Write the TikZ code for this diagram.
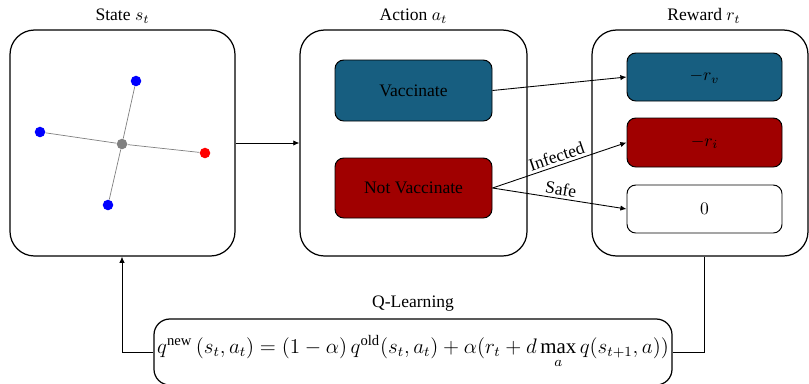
\documentclass[tikz,border=0pt]{standalone}
\usepackage{amsmath}
\usepackage{fontspec}
\setmainfont{Liberation Serif}
\usetikzlibrary{arrows.meta,positioning}
\newdimen\pxu
\pxu=0.57pt
\definecolor{vteal}{RGB}{23,94,128}
\definecolor{vred}{RGB}{160,0,0}
\tikzset{
  bigbox/.style={draw=black,line width=0.7pt,rounded corners=14pt,fill=white},
  smallbox/.style={draw=black,line width=0.55pt,rounded corners=5pt,align=center,font=\normalsize},
  vert/.style={circle,inner sep=0pt,minimum size=6pt},
  edge/.style={draw=gray,line width=0.4pt},
  conn/.style={line width=0.5pt,-{Latex[length=3.5pt,width=3pt]}},
  lbl/.style={font=\normalsize}
}
\begin{document}
\begin{tikzpicture}[x=0.57pt,y=-0.57pt]
\clip (0,0) rectangle (809,383);
\useasboundingbox (0,0) rectangle (809,383);
% big boxes
\node[bigbox,minimum width=225\pxu,minimum height=226\pxu] (state) at (122.5,143) {};
\node[bigbox,minimum width=227\pxu,minimum height=226\pxu] (action) at (413.5,143) {};
\node[bigbox,minimum width=216\pxu,minimum height=226\pxu] (reward) at (700,143) {};
\node[lbl] (stl) at (122.5,16) {State $s_t$};
\node[lbl] (acl) at (413.5,16) {Action $a_t$};
\node[lbl] (rwl) at (704,16) {Reward $r_t$};
% graph
\node[vert,fill=gray] (c) at (122,144) {};
\node[vert,fill=blue] (v1) at (136,81) {};
\node[vert,fill=blue] (v2) at (40,132) {};
\node[vert,fill=red] (v3) at (205,153) {};
\node[vert,fill=blue] (v4) at (108,205) {};
\draw[edge] (v1) -- (c) (v2) -- (c) (v3) -- (c) (v4) -- (c);
% actions
\node[smallbox,fill=vteal,minimum width=157\pxu,minimum height=61\pxu] (vac) at (413.5,90.5) {Vaccinate};
\node[smallbox,fill=vred,minimum width=157\pxu,minimum height=60\pxu] (nvac) at (413.5,188) {Not Vaccinate};
% rewards
\node[smallbox,fill=vteal,minimum width=155\pxu,minimum height=48\pxu] (rv) at (704.5,77) {$-r_v$};
\node[smallbox,fill=vred,minimum width=155\pxu,minimum height=49\pxu] (ri) at (704.5,142.5) {$-r_i$};
\node[smallbox,fill=white,minimum width=155\pxu,minimum height=48\pxu] (rz) at (704.5,209) {$0$};
% formula
\node[smallbox,line width=0.7pt,rounded corners=9pt,fill=white,inner xsep=1.5pt,minimum width=518\pxu,minimum height=66\pxu,font=\fontsize{11.9}{14}\selectfont] (form) at (413,352)
  {$q^{\text{new}}\,(s_t,a_t)=(1-\alpha)\,q^{\text{old}}(s_t,a_t)+\alpha(r_t+d\max\limits_a q(s_{t+1},a))$};
\node[lbl] (ql) at (413,304) {Q-Learning};
% connectors
\draw[conn] (state.east) -- (action.west);
\draw[conn] (vac.east) -- (rv.west);
\draw[conn] (nvac.east) -- node[lbl,sloped,above,inner sep=1.5pt] {Infected} (ri.west);
\draw[conn] (nvac.east) -- node[lbl,sloped,above,inner sep=1.5pt] {Safe} (rz.west);
\coordinate (rb) at (704,352);
\coordinate (lb) at (122,352);
\draw[line width=0.5pt] (reward.south -| rb) -- (rb) -- (form.east);
\draw[conn] (form.west) -- (lb) -- (state.south -| lb);
\end{tikzpicture}
\end{document}
